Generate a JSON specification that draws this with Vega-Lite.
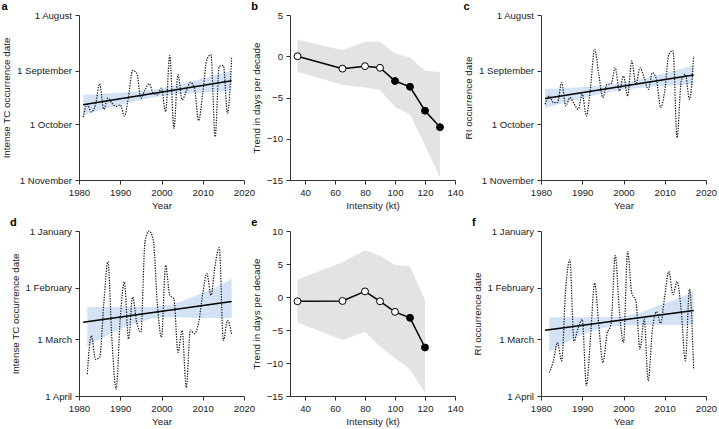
{
  "$schema": "https://vega.github.io/schema/vega-lite/v6.json",
  "background": "white",
  "autosize": {"type": "pad"},
  "padding": {"left": 1, "top": 0, "right": 0, "bottom": 0},
  "columns": 3,
  "spacing": {"row": 51, "column": 46},
  "bounds": "flush",
  "datasets": {
    "a_series": [
      {"year":1981,"day":57.0},{"year":1982,"day":50.0},{"year":1983,"day":54.0},{"year":1984,"day":50.0},{"year":1985,"day":38.3},
      {"year":1986,"day":52.5},{"year":1987,"day":46.4},{"year":1988,"day":49.2},{"year":1989,"day":51.0},{"year":1990,"day":50.1},
      {"year":1991,"day":56.3},{"year":1992,"day":45.4},{"year":1993,"day":30.9},{"year":1994,"day":32.4},{"year":1995,"day":46.4},
      {"year":1996,"day":41.7},{"year":1997,"day":38.3},{"year":1998,"day":43.6},{"year":1999,"day":44.5},{"year":2000,"day":40.8},
      {"year":2001,"day":53.9},{"year":2002,"day":22.6},{"year":2003,"day":63.2},{"year":2004,"day":33.3},{"year":2005,"day":47.3},
      {"year":2006,"day":42.6},{"year":2007,"day":37.6},{"year":2008,"day":40.8},{"year":2009,"day":58.9},{"year":2010,"day":43.6},
      {"year":2011,"day":24.9},{"year":2012,"day":22.1},{"year":2013,"day":67.9},{"year":2014,"day":28.6},{"year":2015,"day":28.2},
      {"year":2016,"day":54.8},{"year":2017,"day":23.9}
    ],
    "a_trend": [{"year":1981,"day":50.1},{"year":2017,"day":36.7}],
    "a_band": [
      {"year":1981,"day":44.5,"day2":55.7},{"year":1985,"day":44.0,"day2":53.2},{"year":1990,"day":43.4,"day2":50.1},
      {"year":1995,"day":42.4,"day2":47.4},{"year":1999,"day":41.2,"day2":45.6},{"year":2003,"day":39.4,"day2":44.4},
      {"year":2008,"day":36.7,"day2":43.5},{"year":2013,"day":33.6,"day2":42.8},{"year":2017,"day":31.1,"day2":42.3}
    ],
    "c_series": [
      {"year":1981,"day":49.8},{"year":1982,"day":45.2},{"year":1983,"day":48.9},{"year":1984,"day":48.9},{"year":1985,"day":37.7},
      {"year":1986,"day":50.7},{"year":1987,"day":46.1},{"year":1988,"day":49.4},{"year":1989,"day":52.6},{"year":1990,"day":44.2},
      {"year":1991,"day":56.3},{"year":1992,"day":40.5},{"year":1993,"day":19.1},{"year":1994,"day":33.1},{"year":1995,"day":46.1},
      {"year":1996,"day":38.7},{"year":1997,"day":38.3},{"year":1998,"day":29.4},{"year":1999,"day":42.4},{"year":2000,"day":34.0},
      {"year":2001,"day":45.2},{"year":2002,"day":25.6},{"year":2003,"day":38.7},{"year":2004,"day":29.4},{"year":2005,"day":35.0},
      {"year":2006,"day":41.5},{"year":2007,"day":32.2},{"year":2008,"day":35.9},{"year":2009,"day":51.7},{"year":2010,"day":42.4},
      {"year":2011,"day":21.9},{"year":2012,"day":19.9},{"year":2013,"day":68.4},{"year":2014,"day":36.8},{"year":2015,"day":33.1},
      {"year":2016,"day":47.0},{"year":2017,"day":22.9}
    ],
    "c_trend": [{"year":1981,"day":46.5},{"year":2017,"day":33.5}],
    "c_band": [
      {"year":1981,"day":41.2,"day2":51.8},{"year":1985,"day":40.8,"day2":49.3},{"year":1990,"day":40.1,"day2":46.4},
      {"year":1995,"day":39.3,"day2":43.6},{"year":1999,"day":38.1,"day2":41.9},{"year":2003,"day":36.4,"day2":40.8},
      {"year":2008,"day":33.6,"day2":39.9},{"year":2013,"day":30.7,"day2":39.2},{"year":2017,"day":28.2,"day2":38.8}
    ],
    "d_series": [
      {"year":1982,"day":78.1},{"year":1983,"day":57.1},{"year":1984,"day":70.0},{"year":1985,"day":69.0},{"year":1986,"day":40.0},
      {"year":1987,"day":16.8},{"year":1988,"day":60.0},{"year":1989,"day":86.3},{"year":1990,"day":48.0},{"year":1991,"day":27.8},
      {"year":1992,"day":58.9},{"year":1993,"day":36.0},{"year":1994,"day":50.0},{"year":1995,"day":55.2},{"year":1996,"day":5.8},
      {"year":1997,"day":0.0},{"year":1998,"day":5.0},{"year":1999,"day":40.0},{"year":2000,"day":58.0},{"year":2001,"day":18.7},
      {"year":2002,"day":35.1},{"year":2003,"day":36.9},{"year":2004,"day":66.2},{"year":2005,"day":54.3},{"year":2006,"day":85.4},
      {"year":2007,"day":54.0},{"year":2008,"day":56.0},{"year":2009,"day":50.0},{"year":2010,"day":34.2},{"year":2011,"day":23.2},
      {"year":2012,"day":35.0},{"year":2013,"day":18.7},{"year":2014,"day":9.1},{"year":2015,"day":59.8},{"year":2016,"day":48.8},
      {"year":2017,"day":56.2}
    ],
    "d_trend": [{"year":1981,"day":49.8},{"year":2017,"day":38.4}],
    "d_band": [
      {"year":1982,"day":41.5,"day2":63.0},{"year":1986,"day":41.5,"day2":58.0},{"year":1990,"day":41.5,"day2":53.5},
      {"year":1995,"day":41.5,"day2":49.5},{"year":2000,"day":41.0,"day2":47.0},{"year":2004,"day":39.0,"day2":47.0},
      {"year":2008,"day":35.5,"day2":47.3},{"year":2013,"day":31.0,"day2":47.5},{"year":2017,"day":26.0,"day2":47.6}
    ],
    "f_series": [
      {"year":1982,"day":77.2},{"year":1983,"day":71.0},{"year":1984,"day":60.9},{"year":1985,"day":70.8},{"year":1986,"day":31.1},
      {"year":1987,"day":15.7},{"year":1988,"day":60.0},{"year":1989,"day":53.0},{"year":1990,"day":48.3},{"year":1991,"day":84.4},
      {"year":1992,"day":58.0},{"year":1993,"day":28.4},{"year":1994,"day":51.0},{"year":1995,"day":71.8},{"year":1996,"day":56.4},
      {"year":1997,"day":50.5},{"year":1998,"day":13.4},{"year":1999,"day":43.7},{"year":2000,"day":60.9},{"year":2001,"day":11.2},
      {"year":2002,"day":33.8},{"year":2003,"day":38.3},{"year":2004,"day":64.5},{"year":2005,"day":48.0},{"year":2006,"day":81.7},
      {"year":2007,"day":54.0},{"year":2008,"day":44.0},{"year":2009,"day":50.4},{"year":2010,"day":35.5},{"year":2011,"day":22.1},
      {"year":2012,"day":34.7},{"year":2013,"day":27.5},{"year":2014,"day":43.7},{"year":2015,"day":70.8},{"year":2016,"day":31.7},
      {"year":2017,"day":75.4}
    ],
    "f_trend": [{"year":1981,"day":54.2},{"year":2017,"day":43.4}],
    "f_band": [
      {"year":1982,"day":47.0,"day2":65.8},{"year":1986,"day":47.0,"day2":61.0},{"year":1990,"day":47.0,"day2":56.5},
      {"year":1995,"day":47.0,"day2":53.0},{"year":2000,"day":46.5,"day2":51.5},{"year":2004,"day":44.5,"day2":51.3},
      {"year":2008,"day":41.0,"day2":51.3},{"year":2013,"day":37.0,"day2":51.3},{"year":2017,"day":32.9,"day2":51.3}
    ],
    "b_data": [
      {"kt":35,"val":0.0,"lo":-1.9,"hi":2.04,"sig":"no"},
      {"kt":65,"val":-1.5,"lo":-3.44,"hi":0.74,"sig":"no"},
      {"kt":80,"val":-1.2,"lo":-3.8,"hi":1.75,"sig":"no"},
      {"kt":90,"val":-1.4,"lo":-4.1,"hi":1.75,"sig":"no"},
      {"kt":100,"val":-3.0,"lo":-6.16,"hi":0.33,"sig":"yes"},
      {"kt":110,"val":-3.7,"lo":-7.05,"hi":-0.15,"sig":"yes"},
      {"kt":120,"val":-6.6,"lo":-10.8,"hi":-1.77,"sig":"yes"},
      {"kt":130,"val":-8.6,"lo":-14.7,"hi":-1.9,"sig":"yes"}
    ],
    "e_data": [
      {"kt":35,"val":-0.65,"lo":-3.85,"hi":2.65,"sig":"no"},
      {"kt":65,"val":-0.6,"lo":-6.5,"hi":5.25,"sig":"no"},
      {"kt":80,"val":0.85,"lo":-5.25,"hi":7.1,"sig":"no"},
      {"kt":90,"val":-0.65,"lo":-7.5,"hi":6.25,"sig":"no"},
      {"kt":100,"val":-2.25,"lo":-9.25,"hi":4.85,"sig":"no"},
      {"kt":110,"val":-3.15,"lo":-11.0,"hi":4.65,"sig":"yes"},
      {"kt":120,"val":-7.65,"lo":-14.5,"hi":-0.5,"sig":"yes"}
    ]
  },
  "concat": [
    {
      "width": 165, "height": 165,
      "title": {"text": "a"},
      "encoding": {
        "x": {"field": "year", "type": "quantitative", "scale": {"domain": [1980, 2020], "nice": false, "zero": false}, "axis": {"values": [1980, 1990, 2000, 2010, 2020], "format": "d", "title": "Year"}},
        "y": {"field": "day", "type": "quantitative", "scale": {"domain": [0, 92], "reverse": true, "nice": false, "zero": false}, "axis": {"values": [0, 31, 61, 92], "labelExpr": "datum.value == 0 ? '1 August' : datum.value == 31 ? '1 September' : datum.value == 61 ? '1 October' : '1 November'", "title": "Intense TC occurrence date"}}
      },
      "layer": [
        {"data": {"name": "a_band"}, "mark": {"type": "area", "color": "#d3e3f5", "interpolate": "monotone"}, "encoding": {"y2": {"field": "day2"}}},
        {"data": {"name": "a_series"}, "mark": {"type": "line", "color": "#111", "strokeDash": [1.3, 1.3], "strokeWidth": 1.2, "interpolate": "monotone"}},
        {"data": {"name": "a_trend"}, "mark": {"type": "line", "color": "#000", "strokeWidth": 1.5}}
      ]
    },
    {
      "width": 205, "height": 165,
      "title": {"text": "b"},
      "layer": [
        {"data": {"name": "b_data"}, "mark": {"type": "area", "color": "#e3e3e3"},
         "encoding": {
          "x": {"field": "kt", "type": "quantitative", "scale": {"domain": [30, 140], "range": [0, 165], "nice": false, "zero": false}, "axis": {"values": [40, 60, 80, 100, 120, 140], "title": "Intensity (kt)"}},
          "y": {"field": "lo", "type": "quantitative", "scale": {"domain": [-15, 5], "nice": false, "zero": false}, "axis": {"values": [-15, -10, -5, 0, 5], "title": "Trend in days per decade"}},
          "y2": {"field": "hi"}}},
        {"data": {"name": "b_data"}, "mark": {"type": "line", "color": "#000", "strokeWidth": 1.5},
         "encoding": {
          "x": {"field": "kt", "type": "quantitative", "scale": {"domain": [30, 140], "range": [0, 165], "nice": false, "zero": false}, "axis": {"values": [40, 60, 80, 100, 120, 140], "title": "Intensity (kt)"}},
          "y": {"field": "val", "type": "quantitative", "scale": {"domain": [-15, 5], "nice": false, "zero": false}, "axis": {"values": [-15, -10, -5, 0, 5], "title": "Trend in days per decade"}}}},
        {"data": {"name": "b_data"}, "mark": {"type": "point", "shape": "circle", "filled": true, "stroke": "#000", "strokeWidth": 1, "size": 48, "opacity": 1},
         "encoding": {
          "x": {"field": "kt", "type": "quantitative", "scale": {"domain": [30, 140], "range": [0, 165], "nice": false, "zero": false}, "axis": {"values": [40, 60, 80, 100, 120, 140], "title": "Intensity (kt)"}},
          "y": {"field": "val", "type": "quantitative", "scale": {"domain": [-15, 5], "nice": false, "zero": false}, "axis": {"values": [-15, -10, -5, 0, 5], "title": "Trend in days per decade"}},
          "fill": {"field": "sig", "type": "nominal", "scale": {"domain": ["no", "yes"], "range": ["#ffffff", "#000000"]}, "legend": null}}}
      ]
    },
    {
      "width": 165, "height": 165,
      "title": {"text": "c"},
      "encoding": {
        "x": {"field": "year", "type": "quantitative", "scale": {"domain": [1980, 2020], "nice": false, "zero": false}, "axis": {"values": [1980, 1990, 2000, 2010, 2020], "format": "d", "title": "Year"}},
        "y": {"field": "day", "type": "quantitative", "scale": {"domain": [0, 92], "reverse": true, "nice": false, "zero": false}, "axis": {"values": [0, 31, 61, 92], "labelExpr": "datum.value == 0 ? '1 August' : datum.value == 31 ? '1 September' : datum.value == 61 ? '1 October' : '1 November'", "title": "RI occurrence date"}}
      },
      "layer": [
        {"data": {"name": "c_band"}, "mark": {"type": "area", "color": "#d3e3f5", "interpolate": "monotone"}, "encoding": {"y2": {"field": "day2"}}},
        {"data": {"name": "c_series"}, "mark": {"type": "line", "color": "#111", "strokeDash": [1.3, 1.3], "strokeWidth": 1.2, "interpolate": "monotone"}},
        {"data": {"name": "c_trend"}, "mark": {"type": "line", "color": "#000", "strokeWidth": 1.5}}
      ]
    },
    {
      "width": 165, "height": 165,
      "title": {"text": "d"},
      "encoding": {
        "x": {"field": "year", "type": "quantitative", "scale": {"domain": [1980, 2020], "nice": false, "zero": false}, "axis": {"values": [1980, 1990, 2000, 2010, 2020], "format": "d", "title": "Year"}},
        "y": {"field": "day", "type": "quantitative", "scale": {"domain": [0, 90], "reverse": true, "nice": false, "zero": false}, "axis": {"values": [0, 31, 59, 90], "labelExpr": "datum.value == 0 ? '1 January' : datum.value == 31 ? '1 February' : datum.value == 59 ? '1 March' : '1 April'", "title": "Intense TC occurrence date"}}
      },
      "layer": [
        {"data": {"name": "d_band"}, "mark": {"type": "area", "color": "#d3e3f5", "interpolate": "monotone"}, "encoding": {"y2": {"field": "day2"}}},
        {"data": {"name": "d_series"}, "mark": {"type": "line", "color": "#111", "strokeDash": [1.3, 1.3], "strokeWidth": 1.2, "interpolate": "monotone"}},
        {"data": {"name": "d_trend"}, "mark": {"type": "line", "color": "#000", "strokeWidth": 1.5}}
      ]
    },
    {
      "width": 205, "height": 165,
      "title": {"text": "e"},
      "layer": [
        {"data": {"name": "e_data"}, "mark": {"type": "area", "color": "#e3e3e3"},
         "encoding": {
          "x": {"field": "kt", "type": "quantitative", "scale": {"domain": [30, 140], "range": [0, 165], "nice": false, "zero": false}, "axis": {"values": [40, 60, 80, 100, 120, 140], "title": "Intensity (kt)"}},
          "y": {"field": "lo", "type": "quantitative", "scale": {"domain": [-15, 10], "nice": false, "zero": false}, "axis": {"values": [-15, -10, -5, 0, 5, 10], "title": "Trend in days per decade"}},
          "y2": {"field": "hi"}}},
        {"data": {"name": "e_data"}, "mark": {"type": "line", "color": "#000", "strokeWidth": 1.5},
         "encoding": {
          "x": {"field": "kt", "type": "quantitative", "scale": {"domain": [30, 140], "range": [0, 165], "nice": false, "zero": false}, "axis": {"values": [40, 60, 80, 100, 120, 140], "title": "Intensity (kt)"}},
          "y": {"field": "val", "type": "quantitative", "scale": {"domain": [-15, 10], "nice": false, "zero": false}, "axis": {"values": [-15, -10, -5, 0, 5, 10], "title": "Trend in days per decade"}}}},
        {"data": {"name": "e_data"}, "mark": {"type": "point", "shape": "circle", "filled": true, "stroke": "#000", "strokeWidth": 1, "size": 48, "opacity": 1},
         "encoding": {
          "x": {"field": "kt", "type": "quantitative", "scale": {"domain": [30, 140], "range": [0, 165], "nice": false, "zero": false}, "axis": {"values": [40, 60, 80, 100, 120, 140], "title": "Intensity (kt)"}},
          "y": {"field": "val", "type": "quantitative", "scale": {"domain": [-15, 10], "nice": false, "zero": false}, "axis": {"values": [-15, -10, -5, 0, 5, 10], "title": "Trend in days per decade"}},
          "fill": {"field": "sig", "type": "nominal", "scale": {"domain": ["no", "yes"], "range": ["#ffffff", "#000000"]}, "legend": null}}}
      ]
    },
    {
      "width": 165, "height": 165,
      "title": {"text": "f"},
      "encoding": {
        "x": {"field": "year", "type": "quantitative", "scale": {"domain": [1980, 2020], "nice": false, "zero": false}, "axis": {"values": [1980, 1990, 2000, 2010, 2020], "format": "d", "title": "Year"}},
        "y": {"field": "day", "type": "quantitative", "scale": {"domain": [0, 90], "reverse": true, "nice": false, "zero": false}, "axis": {"values": [0, 31, 59, 90], "labelExpr": "datum.value == 0 ? '1 January' : datum.value == 31 ? '1 February' : datum.value == 59 ? '1 March' : '1 April'", "title": "RI occurrence date"}}
      },
      "layer": [
        {"data": {"name": "f_band"}, "mark": {"type": "area", "color": "#d3e3f5", "interpolate": "monotone"}, "encoding": {"y2": {"field": "day2"}}},
        {"data": {"name": "f_series"}, "mark": {"type": "line", "color": "#111", "strokeDash": [1.3, 1.3], "strokeWidth": 1.2, "interpolate": "monotone"}},
        {"data": {"name": "f_trend"}, "mark": {"type": "line", "color": "#000", "strokeWidth": 1.5}}
      ]
    }
  ],
  "config": {
    "view": {"stroke": null},
    "font": "Liberation Sans",
    "axis": {
      "grid": false, "domainColor": "#333", "tickColor": "#333", "labelColor": "#222", "titleColor": "#222",
      "labelFont": "Liberation Sans", "titleFont": "Liberation Sans",
      "labelFontSize": 9.6, "titleFontSize": 9.8, "titleFontWeight": "normal",
      "tickSize": 4, "labelPadding": 3, "titlePadding": 4, "labelFlush": false, "labelOverlap": false
    },
    "axisY": {"labelPadding": 3.5, "titlePadding": 5},
    "title": {"fontSize": 11, "fontWeight": "bold", "anchor": "start", "frame": "bounds", "color": "#000", "font": "Liberation Sans", "offset": -1.5}
  }
}
